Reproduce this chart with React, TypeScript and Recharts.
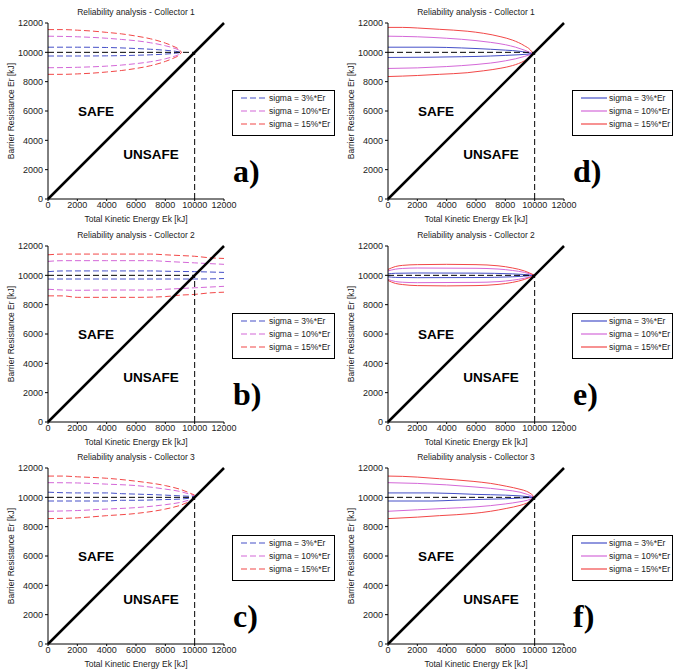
import React from "react";
import { LineChart, Line, XAxis, YAxis, ReferenceLine, Legend } from "recharts";

type Pt = [number, number];

const AXIS_TICKS = [0, 2000, 4000, 6000, 8000, 10000, 12000];
const AXIS_MAX = 12000;
const DESIGN_ER = 10000; // nominal barrier resistance
const SIGMA_LABELS = ["sigma = 3%*Er", "sigma = 10%*Er", "sigma = 15%*Er"];

// a) Collector 1, dashed
const A_3_UP: Pt[] = [[0, 10350], [2000, 10350], [4000, 10330], [6000, 10260], [7000, 10210], [8000, 10140], [8700, 10070], [9100, 10000]];
const A_3_LO: Pt[] = [[0, 9750], [2000, 9750], [4000, 9760], [6000, 9800], [7000, 9830], [8000, 9880], [8700, 9940], [9100, 10000]];
const A_10_UP: Pt[] = [[0, 11100], [2000, 11060], [4000, 10960], [5000, 10880], [6000, 10790], [7000, 10650], [8000, 10450], [8500, 10310], [9000, 10100], [9100, 10000]];
const A_10_LO: Pt[] = [[0, 8950], [2000, 8980], [4000, 9060], [5000, 9130], [6000, 9230], [7000, 9360], [8000, 9560], [8500, 9700], [9000, 9900], [9100, 10000]];
const A_15_UP: Pt[] = [[0, 11550], [1000, 11550], [2000, 11510], [3000, 11450], [4000, 11360], [5000, 11260], [6000, 11110], [7000, 10920], [8000, 10630], [8500, 10430], [9000, 10130], [9100, 10000]];
const A_15_LO: Pt[] = [[0, 8500], [1000, 8500], [2000, 8530], [3000, 8580], [4000, 8660], [5000, 8760], [6000, 8900], [7000, 9090], [8000, 9380], [8500, 9580], [9000, 9870], [9100, 10000]];

// b) Collector 2, dashed
const B_3_UP: Pt[] = [[0, 10250], [1000, 10300], [4000, 10300], [7000, 10300], [8000, 10280], [10000, 10250], [12000, 10200]];
const B_3_LO: Pt[] = [[0, 9750], [4000, 9750], [8000, 9750], [10000, 9750], [12000, 9780]];
const B_10_UP: Pt[] = [[0, 10950], [1000, 11000], [4000, 11000], [7000, 11000], [8000, 10950], [9000, 10900], [10000, 10850], [11000, 10800], [12000, 10750]];
const B_10_LO: Pt[] = [[0, 9050], [1000, 9000], [2000, 8980], [4000, 9000], [7000, 9000], [8000, 9050], [9000, 9100], [10000, 9150], [11000, 9200], [12000, 9250]];
const B_15_UP: Pt[] = [[0, 11400], [1000, 11450], [4000, 11450], [7000, 11450], [8000, 11400], [9000, 11350], [10000, 11300], [11000, 11200], [12000, 11150]];
const B_15_LO: Pt[] = [[0, 8600], [1000, 8600], [2000, 8500], [4000, 8500], [6000, 8500], [8000, 8550], [9000, 8650], [10000, 8700], [11000, 8800], [12000, 8850]];

// c) Collector 3, dashed
const C_3_UP: Pt[] = [[0, 10350], [2000, 10300], [4000, 10300], [5000, 10250], [6000, 10220], [8000, 10150], [9000, 10100], [10000, 10060]];
const C_3_LO: Pt[] = [[0, 9750], [4000, 9750], [5000, 9800], [6000, 9800], [8000, 9850], [9000, 9880], [10000, 9980]];
const C_10_UP: Pt[] = [[0, 11000], [2000, 10980], [4000, 10900], [6000, 10800], [8000, 10560], [9000, 10400], [10000, 10100]];
const C_10_LO: Pt[] = [[0, 9050], [2000, 9100], [4000, 9200], [6000, 9300], [8000, 9500], [9000, 9650], [10000, 9930]];
const C_15_UP: Pt[] = [[0, 11450], [1000, 11450], [2000, 11400], [4000, 11300], [6000, 11100], [8000, 10800], [9000, 10550], [10000, 10150]];
const C_15_LO: Pt[] = [[0, 8550], [2000, 8600], [4000, 8750], [6000, 8900], [8000, 9200], [9000, 9450], [10000, 9880]];

// d) Collector 1, solid
const D_3_UP: Pt[] = [[0, 10350], [3000, 10350], [5000, 10300], [6000, 10260], [7000, 10210], [8000, 10150], [9000, 10070], [9900, 9900]];
const D_3_LO: Pt[] = [[0, 9650], [3000, 9670], [5000, 9700], [6000, 9720], [7000, 9750], [8000, 9790], [9000, 9840], [9900, 9900]];
const D_10_UP: Pt[] = [[0, 11100], [2000, 11060], [4000, 10960], [6000, 10800], [7000, 10680], [8000, 10520], [8700, 10350], [9300, 10150], [9900, 9900]];
const D_10_LO: Pt[] = [[0, 8900], [2000, 8940], [4000, 9030], [6000, 9170], [7000, 9270], [8000, 9420], [8700, 9560], [9300, 9720], [9900, 9900]];
const D_15_UP: Pt[] = [[0, 11700], [1000, 11700], [2000, 11660], [3500, 11570], [5400, 11440], [6500, 11300], [7700, 11060], [8500, 10830], [9300, 10450], [9700, 10170], [9900, 9900]];
const D_15_LO: Pt[] = [[0, 8350], [1000, 8380], [2000, 8420], [3500, 8500], [5400, 8610], [6500, 8740], [7700, 8920], [8500, 9100], [9300, 9420], [9700, 9680], [9900, 9900]];

// e) Collector 2, solid
const E_3_UP: Pt[] = [[0, 10100], [500, 10140], [2000, 10160], [6000, 10150], [8500, 10100], [10000, 10000]];
const E_3_LO: Pt[] = [[0, 9900], [500, 9860], [2000, 9840], [6000, 9850], [8500, 9900], [10000, 10000]];
const E_10_UP: Pt[] = [[0, 10300], [500, 10420], [1000, 10470], [2000, 10500], [6000, 10480], [7500, 10430], [8500, 10330], [9300, 10200], [10000, 10000]];
const E_10_LO: Pt[] = [[0, 9720], [500, 9580], [1000, 9530], [2000, 9500], [6000, 9520], [7500, 9570], [8500, 9670], [9300, 9800], [10000, 10000]];
const E_15_UP: Pt[] = [[0, 10400], [500, 10600], [1000, 10680], [2000, 10730], [4000, 10750], [6000, 10730], [7500, 10650], [8500, 10500], [9300, 10300], [10000, 10000]];
const E_15_LO: Pt[] = [[0, 9650], [500, 9450], [1000, 9370], [2000, 9300], [4000, 9280], [6000, 9300], [7500, 9380], [8500, 9520], [9300, 9720], [10000, 10000]];

// f) Collector 3, solid
const F_3_UP: Pt[] = [[0, 10300], [3000, 10300], [6000, 10200], [8000, 10150], [9000, 10100], [10000, 10000]];
const F_3_LO: Pt[] = [[0, 9750], [3000, 9750], [4500, 9800], [6000, 9850], [8000, 9900], [10000, 10000]];
const F_10_UP: Pt[] = [[0, 11000], [2000, 10950], [4000, 10850], [6000, 10700], [8000, 10500], [9000, 10350], [9500, 10200], [10000, 10000]];
const F_10_LO: Pt[] = [[0, 9050], [2000, 9150], [4000, 9250], [6000, 9350], [8000, 9550], [9000, 9700], [9500, 9800], [10000, 10000]];
const F_15_UP: Pt[] = [[0, 11450], [1000, 11430], [2000, 11380], [3500, 11270], [5800, 11090], [7000, 10950], [8100, 10750], [9000, 10550], [9450, 10410], [9800, 10200], [10000, 10000]];
const F_15_LO: Pt[] = [[0, 8550], [2000, 8650], [3500, 8750], [5800, 8900], [7000, 9050], [8100, 9250], [9000, 9450], [9450, 9600], [9800, 9800], [10000, 10000]];

const PANELS = [
  { letter: "a)", title: "Reliability analysis - Collector 1", col: 0, row: 0, dashed: true, curves: [[A_3_UP, A_3_LO], [A_10_UP, A_10_LO], [A_15_UP, A_15_LO]] },
  { letter: "d)", title: "Reliability analysis - Collector 1", col: 1, row: 0, dashed: false, curves: [[D_3_UP, D_3_LO], [D_10_UP, D_10_LO], [D_15_UP, D_15_LO]] },
  { letter: "b)", title: "Reliability analysis - Collector 2", col: 0, row: 1, dashed: true, curves: [[B_3_UP, B_3_LO], [B_10_UP, B_10_LO], [B_15_UP, B_15_LO]] },
  { letter: "e)", title: "Reliability analysis - Collector 2", col: 1, row: 1, dashed: false, curves: [[E_3_UP, E_3_LO], [E_10_UP, E_10_LO], [E_15_UP, E_15_LO]] },
  { letter: "c)", title: "Reliability analysis - Collector 3", col: 0, row: 2, dashed: true, curves: [[C_3_UP, C_3_LO], [C_10_UP, C_10_LO], [C_15_UP, C_15_LO]] },
  { letter: "f)", title: "Reliability analysis - Collector 3", col: 1, row: 2, dashed: false, curves: [[F_3_UP, F_3_LO], [F_10_UP, F_10_LO], [F_15_UP, F_15_LO]] },
];

const COLORS = ["#4650c8", "#d468d8", "#f24848"];
const ROW_TOP = [0, 223, 445];
const COL_LEFT = [0, 340];
const FONT = '"Liberation Sans", Arial, sans-serif';
const CURVE_DASH = "6 3";
const GUIDE_DASH = "6 3";

const toPts = (arr: Pt[]) => arr.map(([x, y]) => ({ x, y }));

const LegendBox = ({ dashed, width }: { dashed: boolean; width: number }) => (
  <div
    style={{
      width,
      height: 46,
      boxSizing: "border-box",
      border: "1px solid #000",
      background: "#fff",
      fontFamily: FONT,
      fontSize: 8.5,
      color: "#222",
    }}
  >
    {SIGMA_LABELS.map((label, i) => (
      <div key={label} style={{ display: "flex", alignItems: "center", height: 13.4 }}>
        <svg width={35} height={6} style={{ flex: "none" }}>
          <line x1={8} x2={34} y1={3} y2={3} stroke={COLORS[i]} strokeWidth={1.2} strokeDasharray={dashed ? CURVE_DASH : undefined} />
        </svg>
        <span style={{ marginLeft: 1, whiteSpace: "nowrap" }}>{label}</span>
      </div>
    ))}
  </div>
);

const Panel = ({ p }: { p: (typeof PANELS)[number] }) => {
  const legendWidth = p.col ? 101 : 103;
  return (
    <div style={{ position: "absolute", left: COL_LEFT[p.col], top: ROW_TOP[p.row], width: 340, height: 224, fontFamily: FONT }}>
      <LineChart width={340} height={224} margin={{ top: 23, right: 116, bottom: 0, left: 0 }}>
        <XAxis
          type="number"
          dataKey="x"
          domain={[0, AXIS_MAX]}
          ticks={AXIS_TICKS}
          interval={0}
          height={25}
          tickSize={2}
          tickMargin={1}
          axisLine={{ stroke: "#000" }}
          tickLine={{ stroke: "#000" }}
          tick={{ fontSize: 9, fill: "#222" }}
          label={{ value: "Total Kinetic Energy Ek [kJ]", position: "insideBottom", offset: 2, fontSize: 8.5, fill: "#222" }}
        />
        <YAxis
          type="number"
          dataKey="y"
          domain={[0, AXIS_MAX]}
          ticks={AXIS_TICKS}
          interval={0}
          width={48}
          tickSize={3}
          tickMargin={2}
          axisLine={{ stroke: "#000" }}
          tickLine={{ stroke: "#000" }}
          tick={{ fontSize: 9, fill: "#222" }}
          label={{ value: "Barrier Resistance Er [kJ]", angle: -90, position: "insideLeft", offset: 11, fontSize: 8.5, fill: "#222", style: { textAnchor: "middle" } }}
        />
        {p.curves.map((pair, i) =>
          pair.map((curve, j) => (
            <Line
              key={`${i}-${j}`}
              data={toPts(curve)}
              dataKey="y"
              type="monotone"
              stroke={COLORS[i]}
              strokeWidth={1}
              strokeDasharray={p.dashed ? CURVE_DASH : undefined}
              dot={false}
              activeDot={false}
              isAnimationActive={false}
              legendType="none"
            />
          ))
        )}
        <ReferenceLine segment={[{ x: 0, y: DESIGN_ER }, { x: DESIGN_ER, y: DESIGN_ER }]} stroke="#000" strokeDasharray={GUIDE_DASH} />
        <ReferenceLine segment={[{ x: DESIGN_ER, y: 0 }, { x: DESIGN_ER, y: DESIGN_ER }]} stroke="#000" strokeDasharray={GUIDE_DASH} />
        <ReferenceLine segment={[{ x: 0, y: 0 }, { x: AXIS_MAX, y: AXIS_MAX }]} stroke="#000" strokeWidth={2.5} />
        <Legend
          layout="vertical"
          align="center"
          verticalAlign="middle"
          wrapperStyle={{ left: 232, top: 90, width: legendWidth, height: 46 }}
          content={() => <LegendBox dashed={p.dashed} width={legendWidth} />}
        />
      </LineChart>
      <svg width={340} height={224} style={{ position: "absolute", left: 0, top: 0, pointerEvents: "none" }}>
        <text x={136} y={15} textAnchor="middle" fontSize={8.5} fill="#222">{p.title}</text>
        <text x={96} y={115.7} textAnchor="middle" fontSize={13.5} fontWeight="bold" fill="#000">SAFE</text>
        <text x={151} y={158.7} textAnchor="middle" fontSize={13.5} fontWeight="bold" fill="#000">UNSAFE</text>
        <text x={233} y={182} fontSize={32} fontWeight="bold" fontFamily='"Liberation Serif", "Times New Roman", serif' fill="#000">{p.letter}</text>
      </svg>
    </div>
  );
};

export default function App() {
  return (
    <div style={{ position: "absolute", left: 0, top: 0, width: 674, height: 672, overflow: "hidden", background: "#fff" }}>
      {PANELS.map((p) => (
        <Panel key={p.letter} p={p} />
      ))}
    </div>
  );
}
